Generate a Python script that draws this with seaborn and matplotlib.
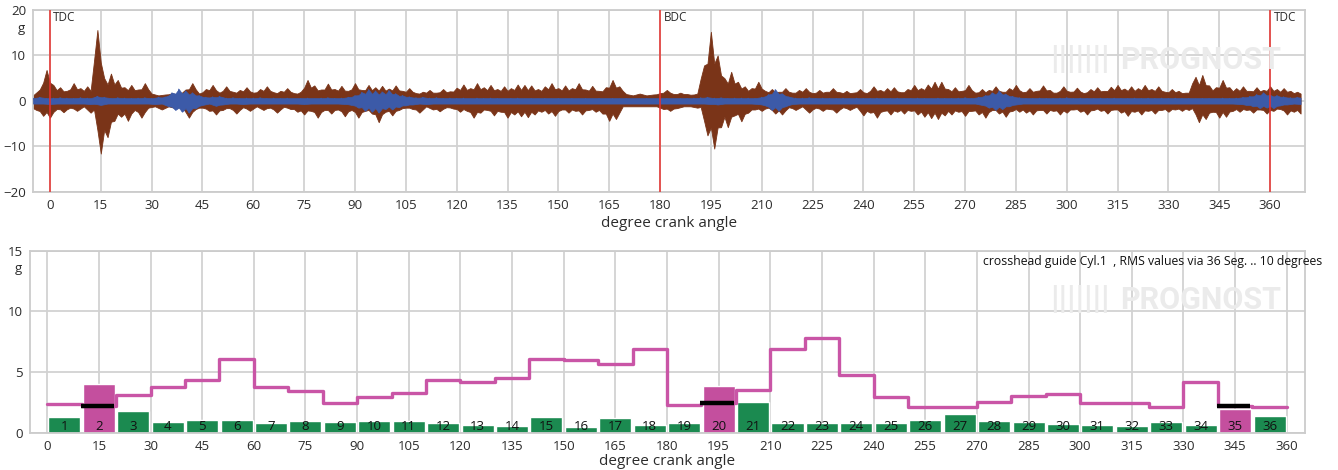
import numpy as np
import pandas as pd
import matplotlib
matplotlib.use("Agg")
import matplotlib.pyplot as plt
import seaborn as sns

# ---------------- data ----------------
# vibration signal (g), one sample per degree starting at -5 deg
angle_start = -5
brown_signal = [
    1.2, -2.0, 2.5, -3.3, 6.8, -3.7, 3.5, -1.8, 3.0, -2.5, 2.2, -1.5, 3.9, -2.2, 2.8,
    -1.2, 3.2, -2.6, 2.0, 15.6, -11.6, 5.0, -8.0, 6.0, -4.4, 4.6, -3.5, 3.0, -4.4, 3.5,
    -2.0, 2.5, -3.7, 3.9, -1.5, 1.6, -1.2, 1.0, -1.9, 1.4, -1.0, 1.7, -1.6, 1.2, -1.4,
    2.5, -3.7, 3.9, -1.8, 1.6, -1.5, 2.6, -2.2, 3.5, -3.0, 1.8, -2.0, 3.2, -1.6, 2.0,
    -2.8, 2.4, -1.4, 3.0, -2.2, 1.8, -1.2, 2.6, -2.0, 3.2, -1.5, 1.9, -2.6, 2.2, -1.3,
    2.8, -1.8, 1.7, -2.4, 2.0, -3.0, 4.6, -2.2, 3.4, -3.7, 2.5, -2.0, 3.8, -2.8, 2.6,
    -1.9, 3.3, -3.4, 2.2, -2.0, 3.9, -3.7, 2.4, -2.2, 3.5, -2.8, 3.0, -4.7, 3.3, -2.4,
    2.7, -3.2, 3.4, -2.0, 2.2, -1.5, 2.8, -1.8, 1.7, -2.6, 2.0, -1.2, 2.4, -1.9, 1.8,
    -2.3, 2.6, -1.4, 2.1, -1.7, 2.9, -2.4, 3.6, -2.2, 2.8, -3.7, 3.9, -2.6, 3.0, -2.0,
    3.5, -3.2, 2.6, -2.4, 3.2, -3.7, 2.8, -3.0, 3.6, -3.4, 3.5, -3.6, 3.4, -3.0, 2.6,
    -2.4, 3.2, -2.8, 3.9, -3.3, 2.8, -1.9, 3.4, -2.6, 2.8, -2.2, 3.9, -3.0, 2.5, -2.0,
    3.3, -2.4, 2.2, -2.8, 3.0, -4.4, 4.6, -4.0, 3.2, -1.2, 1.5, -0.9, 1.2, -1.0, 1.6,
    -0.8, 1.0, -1.1, 1.4, -0.9, 1.7, -1.8, 2.4, -2.2, 1.5, -1.6, 1.8, -1.2, 1.5, -0.9,
    1.4, -1.5, 2.0, 7.8, -7.6, 15.2, -10.5, 10.0, -5.8, 5.0, -5.8, 6.4, -3.2, 4.2, -4.5,
    3.2, -2.6, 2.8, -1.9, 4.2, -2.2, 2.2, -1.5, 2.6, -2.8, 2.0, -3.0, 2.8, -1.4, 1.8,
    -2.0, 2.4, -1.2, 2.8, -2.6, 1.7, -1.5, 2.4, -2.2, 2.0, -1.8, 2.8, -2.6, 1.9, -1.4,
    2.2, -2.0, 1.8, -1.3, 2.6, -3.2, 1.7, -2.6, 3.2, -3.7, 2.4, -2.2, 2.8, -3.0, 3.0,
    -2.4, 1.9, -2.8, 2.6, -2.2, 3.5, -3.0, 2.8, -3.5, 3.6, -3.8, 4.2, -4.0, 4.2, -3.2,
    2.6, -3.0, 3.0, -2.4, 2.2, -3.3, 3.5, -2.2, 1.8, -3.0, 2.6, -3.7, 2.4, -2.0, 3.2,
    -2.8, 2.0, -3.5, 2.8, -2.2, 3.5, -2.4, 1.9, -2.6, 2.8, -3.0, 2.2, -2.0, 3.4, -2.8,
    2.4, -2.2, 1.8, -3.0, 3.2, -2.6, 2.0, -1.9, 2.9, -2.4, 1.7, -3.0, 2.6, -2.0, 3.0,
    -2.2, 2.2, -2.8, 3.1, -1.9, 3.5, -2.6, 2.7, -3.3, 3.2, -2.4, 2.8, -3.0, 3.5, -2.2,
    2.6, -2.8, 3.2, -2.0, 2.0, -2.4, 2.6, -1.9, 2.2, -2.2, 1.8, -2.0, 2.4, 5.3, -4.7,
    5.7, -4.0, 3.4, -2.4, 3.0, -3.7, 4.6, -3.5, 3.0, -2.2, 2.8, -2.4, 3.2, -2.0, 2.2,
    -2.6, 3.0, -1.9, 2.4, -2.8, 3.2, -2.2, 2.6, -1.8, 2.8, -3.0, 2.2, -2.4, 2.0, -2.8,
]
blue_signal = [
    0.6, -0.5, 0.8, -0.6, 0.5, -0.7, 0.6, -0.4, 0.7, -0.5, 0.6, -0.6, 0.5, -0.4, 0.7,
    -0.5, 0.6, -0.7, 0.5, 1.0, -0.9, 0.8, -0.6, 0.5, -0.5, 0.7, -0.4, 0.6, -0.6, 0.5,
    -0.5, 0.6, -0.4, 0.7, -0.6, 0.5, -0.7, 0.8, -0.6, 0.9, -1.2, 1.8, -2.0, 2.6, -2.4,
    2.2, -2.6, 1.8, -1.6, 1.2, -0.9, 0.8, -0.6, 0.9, -1.1, 1.0, -0.8, 0.6, -0.5, 0.7,
    -0.6, 0.5, -0.7, 0.6, -0.5, 0.6, -0.4, 0.7, -0.6, 0.5, -0.5, 0.6, -0.4, 0.5, -0.6,
    0.6, -0.5, 0.4, -0.6, 0.5, -0.7, 0.6, -0.5, 0.4, -0.4, 0.6, -0.5, 0.7, -0.6, 0.5,
    -0.5, 0.6, -0.7, 0.8, -0.9, 1.2, -1.5, 1.9, -2.2, 2.5, -2.4, 2.2, -2.6, 2.0, -1.8,
    2.3, -1.9, 1.6, -1.4, 1.2, -1.0, 0.9, -0.8, 0.7, -0.6, 0.8, -0.7, 0.6, -0.5, 0.7,
    -0.6, 0.5, -0.4, 0.6, -0.5, 0.5, -0.4, 0.6, -0.5, 0.4, -0.5, 0.6, -0.4, 0.5, -0.5,
    0.6, -0.4, 0.5, -0.5, 0.4, -0.4, 0.5, -0.4, 0.6, -0.5, 0.4, -0.4, 0.5, -0.5, 0.4,
    -0.4, 0.5, -0.4, 0.4, -0.5, 0.5, -0.4, 0.4, -0.4, 0.5, -0.5, 0.4, -0.4, 0.5, -0.4,
    0.4, -0.5, 0.5, -0.4, 0.4, -0.4, 0.5, -0.5, 0.4, -0.4, 0.5, -0.6, 0.4, -0.5, 0.4,
    -0.4, 0.5, -0.4, 0.4, -0.5, 0.5, -0.4, 0.5, -0.5, 0.4, -0.6, 0.5, -0.4, 0.5, -0.4,
    0.6, -0.5, 0.7, -0.6, 0.8, -0.7, 0.6, -0.8, 0.7, -0.6, 0.5, -0.6, 0.6, -0.5, 0.6,
    -0.5, 0.6, -0.6, 0.5, -0.7, 0.8, -1.0, 1.4, -2.0, 2.5, -2.2, 1.6, -1.2, 0.9, -0.7,
    0.6, -0.5, 0.6, -0.5, 0.7, -0.6, 0.5, -0.5, 0.6, -0.4, 0.5, -0.6, 0.5, -0.5, 0.6,
    -0.5, 0.4, -0.5, 0.6, -0.4, 0.5, -0.6, 0.5, -0.5, 0.6, -0.4, 0.5, -0.6, 0.5, -0.4,
    0.6, -0.5, 0.5, -0.6, 0.5, -0.4, 0.6, -0.5, 0.5, -0.6, 0.4, -0.5, 0.6, -0.5, 0.5,
    -0.6, 0.5, -0.4, 0.6, -0.5, 0.7, -0.6, 0.5, -0.6, 0.8, -0.9, 1.2, -1.5, 1.8, -2.0,
    2.2, -1.8, 1.5, -1.2, 1.0, -0.8, 0.7, -0.6, 0.5, -0.6, 0.5, -0.5, 0.6, -0.4, 0.5,
    -0.6, 0.5, -0.5, 0.6, -0.5, 0.7, -0.6, 0.5, -0.5, 0.6, -0.4, 0.5, -0.6, 0.5, -0.5,
    0.6, -0.5, 0.5, -0.4, 0.6, -0.5, 0.5, -0.6, 0.5, -0.5, 0.6, -0.4, 0.5, -0.5, 0.6,
    -0.5, 0.5, -0.4, 0.6, -0.5, 0.5, -0.5, 0.6, -0.4, 0.5, -0.6, 0.5, -0.5, 0.4, -0.5,
    0.5, -0.4, 0.5, -0.5, 0.4, -0.5, 0.6, -0.5, 0.5, -0.4, 0.6, -0.7, 0.8, -0.9, 1.0,
    -1.2, 1.4, -1.6, 1.8, -1.5, 1.3, -1.6, 1.2, -1.0, 0.9, -0.8, 0.7, -0.6, 0.8, -0.7,
]
dead_centres = [0, 180, 360]
dead_centre_labels = ["TDC", "BDC", "TDC"]

segments = list(range(1, 37))
segment_start = list(range(0, 360, 10))
rms_values = [1.31, 3.99, 1.78, 0.88, 1.04, 1.04, 0.79, 0.96, 0.88, 0.96, 0.96, 0.79,
              0.63, 0.55, 1.29, 0.47, 1.20, 0.63, 0.79, 3.83, 2.52, 0.79, 0.79, 0.79,
              0.79, 1.04, 1.53, 0.96, 0.88, 0.71, 0.63, 0.55, 0.88, 0.63, 1.94, 1.37]
limit_values = [2.33, 2.22, 3.07, 3.80, 4.32, 6.10, 3.80, 3.44, 2.43, 2.98, 3.28, 4.32,
                4.18, 4.54, 6.10, 5.96, 5.63, 6.86, 2.25, 2.41, 3.48, 6.92, 7.84, 4.79,
                2.97, 2.13, 2.13, 2.49, 3.00, 3.15, 2.43, 2.43, 2.13, 4.18, 2.18, 2.13]
alarm_segments = [2, 20, 35]
x_ticks = list(range(0, 361, 15))
title_text = "crosshead guide Cyl.1  , RMS values via 36 Seg. .. 10 degrees"

# ---------------- style ----------------
sns.set_theme(style="white")
plt.rcParams["font.family"] = ["Open Sans", "DejaVu Sans"]
TXT = "#2b2b2b"
GRID = "#d2d2d2"
BROWN = "#7a3418"
BLUE = "#3c5aa8"
GREEN = "#1b8a50"
MAGENTA = "#c44f9e"
LIMIT = "#c955a6"
BROWN_CORE = 1.2   # visual width of the dense signal band
BLUE_CORE = 0.6

fig = plt.figure(figsize=(13.38, 4.70), dpi=100)
W, H = 1338, 470
ax1 = fig.add_axes([33 / W, 1 - 191.7 / H, (1305 - 33) / W, 181.7 / H])
ax2 = fig.add_axes([30 / W, 1 - 432.7 / H, (1305 - 30) / W, 182 / H])


def style_axes(ax):
    ax.set_axisbelow(True)
    ax.grid(True, color=GRID, linewidth=1.3)
    for s in ax.spines.values():
        s.set_color("#cccccc")
        s.set_linewidth(1.3)
    ax.tick_params(axis="both", length=0, labelsize=9.5, colors=TXT, pad=5)


def envelope(series, core):
    """Upper/lower outline of a densely sampled signal as rendered on screen."""
    roll = series.rolling(3, center=True, min_periods=1)
    hi = 0.5 * (roll.max().clip(lower=core) + series.clip(lower=core))
    lo = 0.5 * (roll.min().clip(upper=-core) + series.clip(upper=-core))
    return lo, hi


# ---------------- top: waveform ----------------
angles = np.arange(angle_start, angle_start + len(brown_signal))
df_w = pd.DataFrame({"angle": angles, "brown": brown_signal, "blue": blue_signal})
df_w["brown_lo"], df_w["brown_hi"] = envelope(df_w["brown"], BROWN_CORE)
df_w["blue_lo"], df_w["blue_hi"] = envelope(df_w["blue"], BLUE_CORE)

ax1.fill_between(df_w["angle"], df_w["brown_lo"], df_w["brown_hi"], color=BROWN,
                 linewidth=0.6, edgecolor=BROWN, zorder=2)
ax1.fill_between(df_w["angle"], df_w["blue_lo"], df_w["blue_hi"], color=BLUE,
                 linewidth=0.5, edgecolor=BLUE, zorder=4)
sns.lineplot(data=df_w, x="angle", y="blue", color=BLUE, linewidth=0.6,
             estimator=None, sort=False, ax=ax1, zorder=5)

for xc, lab in zip(dead_centres, dead_centre_labels):
    ax1.axvline(xc, color="#e8302c", linewidth=1.1, zorder=6)
    ax1.text(xc + 1.0, 18.3, lab, fontsize=8.5, color=TXT, ha="left", va="center", zorder=7)

style_axes(ax1)
ax1.set_xlim(-5, 370.3)
ax1.set_ylim(-20, 20)
ax1.set_xticks(x_ticks)
ax1.set_yticks([-20, -10, 0, 10, 20])
ax1.set_xlabel("degree crank angle", fontsize=11, color=TXT, labelpad=3)
ax1.set_ylabel("")
ax1.text(-0.006, 0.90, "g", transform=ax1.transAxes, ha="right", va="center",
         fontsize=9.5, color=TXT)

# ---------------- bottom: RMS bars ----------------
status = ["alarm" if s in alarm_segments else "ok" for s in segments]
centres = [s0 + 5 for s0 in segment_start]
df_b = pd.DataFrame({"centre": centres, "rms": rms_values, "status": status,
                     "seg": segments})
sns.barplot(data=df_b, x="centre", y="rms", hue="status",
            palette={"ok": GREEN, "alarm": MAGENTA}, native_scale=True,
            width=0.93, dodge=False, legend=False, saturation=1, ax=ax2, zorder=2)

edges = segment_start + [360]
df_l = pd.DataFrame({"edge": edges, "limit": limit_values + [limit_values[-1]]})
sns.lineplot(data=df_l, x="edge", y="limit", color=LIMIT, linewidth=2.4,
             drawstyle="steps-post", estimator=None, sort=False, ax=ax2, zorder=3)

for s, s0, lim in zip(segments, segment_start, limit_values):
    if s in alarm_segments:
        ax2.hlines(lim, s0 - 0.3, s0 + 9.4, color="black", linewidth=3.2, zorder=4)

for c, s in zip(centres, segments):
    ax2.text(c, 0.47, str(s), ha="center", va="center", fontsize=9.5, color="#111111",
             zorder=5)

style_axes(ax2)
ax2.set_xlim(-5, 365.3)
ax2.set_ylim(0, 15)
ax2.set_xticks(x_ticks)
ax2.set_xticklabels([str(t) for t in x_ticks])
ax2.set_yticks([0, 5, 10, 15])
ax2.set_xlabel("degree crank angle", fontsize=11, color=TXT, labelpad=1)
ax2.set_ylabel("")
ax2.text(-0.006, 0.90, "g", transform=ax2.transAxes, ha="right", va="center",
         fontsize=9.5, color=TXT)
fig.text(1322 / W, 1 - 262 / H, title_text, ha="right", va="center", fontsize=8.8,
         color="#111111")

# watermark
for yc in (60, 300):
    fig.text(1120 / W, 1 - yc / H, "PROGNOST", ha="left", va="center",
             fontsize=22, fontweight="bold", family="Roboto", color="#ebebeb", zorder=0)
    fig.text(1080 / W, 1 - yc / H, "|||||||", ha="center", va="center",
             fontsize=24, fontweight="bold", family="Roboto", color="#ebebeb", zorder=0)

fig.savefig("out.png", dpi=100)
